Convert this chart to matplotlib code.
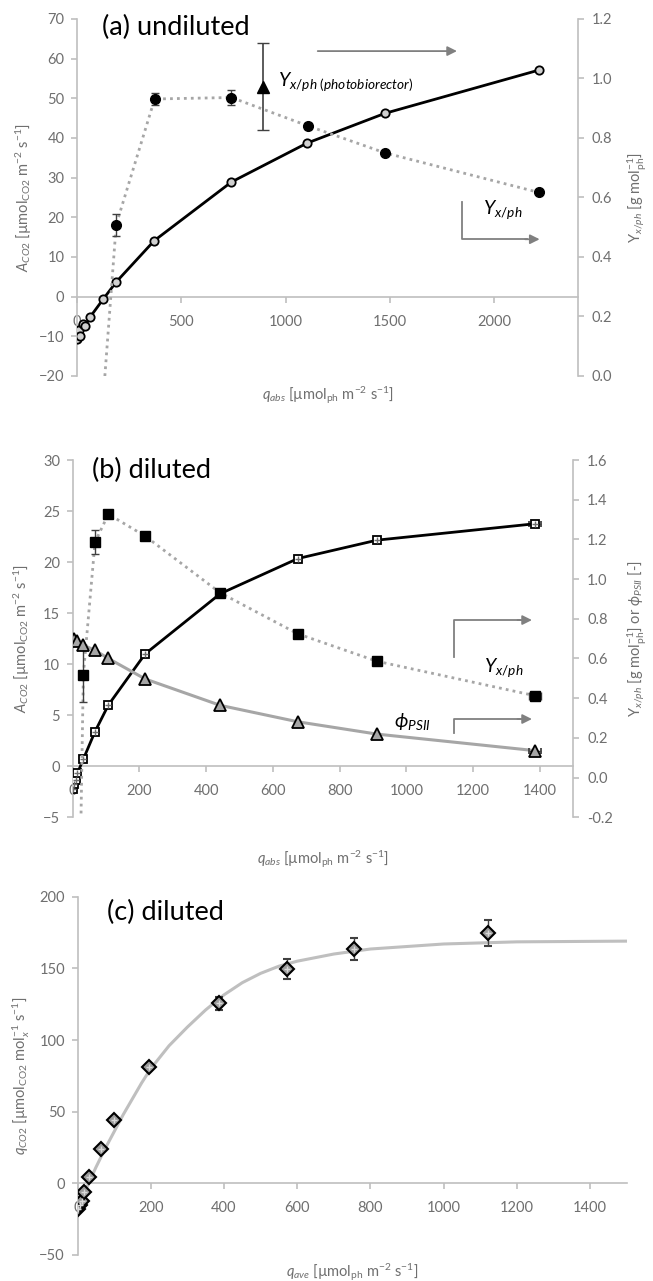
import matplotlib
matplotlib.use("Agg")
import matplotlib.pyplot as plt

plt.rcParams["font.family"] = ["Lato", "DejaVu Sans"]
plt.rcParams["mathtext.fontset"] = "custom"
plt.rcParams["mathtext.rm"] = "Lato"
plt.rcParams["mathtext.it"] = "Lato:italic"
plt.rcParams["mathtext.bf"] = "Lato:bold"
plt.rcParams["mathtext.fallback"] = "stixsans"

# (a) undiluted
qa_A = [0, 11, 14, 27, 38, 62, 126, 188, 370, 740, 1102, 1475, 2212]
A_a = [-10.6, -8.5, -10.0, -7.0, -7.5, -5.2, -0.6, 3.7, 14.1, 28.9, 38.7, 46.2, 57.1]
qa_Y = [126, 188, 372, 740, 1105, 1475, 2212]
Y_a = [-0.07, 0.509, 0.931, 0.936, 0.841, 0.750, 0.617]
Y_a_err = [0, 0.037, 0.021, 0.025, 0.01, 0, 0]
pbr_q = [889]
pbr_Y = [0.972]
pbr_err = [0.146]

# (b) diluted
qb_A = [0, 4, 10, 14, 32, 67, 107, 217, 442, 675, 912, 1384]
A_b = [-2.2, -1.7, -1.3, -0.7, 0.7, 3.4, 6.0, 11.0, 16.9, 20.35, 22.15, 23.75]
A_b_xerr = [0, 0, 0, 0, 0, 0, 0, 0, 0, 0, 0, 18]
qb_Y = [14, 32, 67, 107, 217, 442, 675, 912, 1384]
Y_b = [-1.3, 0.519, 1.187, 1.327, 1.217, 0.931, 0.724, 0.586, 0.413]
Y_b_err = [0, 0.14, 0.06, 0.015, 0, 0, 0, 0, 0]
Y_b_xerr = [0, 0, 0, 0, 0, 0, 0, 0, 18]
qb_phi = [4, 12, 32, 67, 107, 217, 442, 675, 912, 1384]
phi_b = [0.70, 0.69, 0.667, 0.641, 0.60, 0.497, 0.364, 0.281, 0.219, 0.136]
phi_b_xerr = [0, 0, 0, 0, 0, 0, 0, 0, 0, 18]

# (c) diluted, specific rate
qc = [0, 6, 11, 19, 32, 65, 100, 196, 386, 571, 756, 1122]
qc_CO2 = [-17.9, -15.0, -12.6, -6.0, 4.3, 24.3, 44.0, 81.4, 125.6, 149.3, 163.5, 174.9]
qc_err = [0, 0, 0, 1.5, 1.5, 1.5, 1.5, 2, 4.5, 7, 8, 9]
fit_q = [0, 25, 50, 75, 100, 125, 150, 175, 200, 250, 300, 350, 400, 450, 500,
         550, 600, 700, 800, 1000, 1200, 1500]
fit_CO2 = [-17, -3, 11, 24, 36, 48, 59, 70, 80, 96, 109, 121, 131.5, 140, 146.5,
           151.5, 155, 160, 163.5, 167, 168.5, 169]

GRID = "#bfbfbf"
TXT = "#6f6f6f"
DOT = "#a6a6a6"
ARROW = "#808080"


def style_main(ax):
    ax.spines["top"].set_visible(False)
    ax.spines["right"].set_visible(False)
    ax.spines["bottom"].set_position(("data", 0))
    for s in ("left", "bottom"):
        ax.spines[s].set_color(GRID)
        ax.spines[s].set_linewidth(1.2)
    ax.tick_params(axis="both", colors=GRID, labelcolor=TXT, labelsize=10.5,
                   length=4, width=1.2)
    ax.tick_params(axis="x", pad=9)
    ax.tick_params(axis="y", pad=5)


def style_twin(ax2):
    for s in ("top", "left", "bottom"):
        ax2.spines[s].set_visible(False)
    ax2.spines["right"].set_color(GRID)
    ax2.spines["right"].set_linewidth(1.2)
    ax2.tick_params(axis="y", colors=GRID, labelcolor=TXT, labelsize=10.5,
                    length=4, width=1.2, pad=6)


def bracket(ax, x0, y0, y1, x1):
    ax.plot([x0, x0, x1 - 0.03], [y0, y1, y1], color=ARROW, lw=1.3,
            transform=ax.transAxes, clip_on=False)
    ax.annotate("", xy=(x1, y1), xytext=(x1 - 0.04, y1), xycoords="axes fraction",
                arrowprops=dict(arrowstyle="-|>", color=ARROW, lw=1.3, mutation_scale=14))


fig = plt.figure(figsize=(6.53, 12.81), dpi=100)

# ---------------- (a) ----------------
ax = fig.add_axes([0.1179, 0.7065, 0.7672, 0.2787])
ax.set_xlim(0, 2400)
ax.set_ylim(-20, 70)
ax.set_xticks([0, 500, 1000, 1500, 2000])
ax.set_yticks(range(-20, 71, 10))
style_main(ax)
ax.plot(qa_A, A_a, color="black", lw=2, marker="o", ms=6, mfc="#d0d0d0",
        mec="black", mew=1.3, zorder=4)
ax.set_xlabel(r"$q_{abs}$ [µmol$_{\mathrm{ph}}$ m$^{-2}$ s$^{-1}$]", color=TXT, fontsize=10.5)
ax.xaxis.set_label_coords(0.5, -0.025)
ax.set_ylabel(r"$A_{CO2}$ [µmol$_{\mathrm{CO2}}$ m$^{-2}$ s$^{-1}$]", color=TXT, fontsize=10.5)
ax.yaxis.set_label_coords(-0.086, 0.5)
ax.text(0.049, 0.977, "(a) undiluted", transform=ax.transAxes, fontsize=19.5,
        ha="left", va="center")

ax2 = ax.twinx()
ax2.set_ylim(0, 1.2)
ticks_a = [0.0, 0.2, 0.4, 0.6, 0.8, 1.0, 1.2]
ax2.set_yticks(ticks_a)
ax2.set_yticklabels([f"{v:.1f}" for v in ticks_a])
style_twin(ax2)
ax2.plot(qa_Y, Y_a, color=DOT, lw=2, ls=(0, (1, 1.5)), zorder=3)
ax2.errorbar(qa_Y, Y_a, yerr=Y_a_err, fmt="o", color="black", ms=7,
             ecolor="#404040", elinewidth=1, capsize=3, zorder=5)
ax2.errorbar(pbr_q, pbr_Y, yerr=pbr_err, fmt="^", color="black", ms=8,
             ecolor="#404040", elinewidth=1.2, capsize=4, zorder=5)
ax2.set_ylabel(r"Y$_{x/ph}$ [g mol$_{\mathrm{ph}}^{-1}$]", color=TXT, fontsize=10.5)
ax2.yaxis.set_label_coords(1.096, 0.5)
ax2.text(0.401, 0.824, r"$Y_{x/ph\ (photobiorector)}$", transform=ax2.transAxes,
         fontsize=14, ha="left", va="center")
ax2.annotate("", xy=(0.764, 0.910), xytext=(0.475, 0.910), xycoords="axes fraction",
             arrowprops=dict(arrowstyle="-|>", color=ARROW, lw=1.3, mutation_scale=14))
ax2.text(0.850, 0.465, r"$Y_{x/ph}$", transform=ax2.transAxes, fontsize=14,
         ha="center", va="center")
bracket(ax2, 0.769, 0.488, 0.383, 0.929)

# ---------------- (b) ----------------
bx = fig.add_axes([0.1113, 0.3620, 0.7666, 0.2789])
bx.set_xlim(0, 1500)
bx.set_ylim(-5, 30)
bx.set_xticks(range(0, 1401, 200))
bx.set_yticks(range(-5, 31, 5))
style_main(bx)
bx.errorbar(qb_A, A_b, xerr=A_b_xerr, color="black", lw=2, marker="s", ms=6,
            mfc="white", mec="black", mew=1.3, ecolor="#404040", elinewidth=1,
            capsize=2, zorder=4)
bx.plot(qb_A, A_b, ls="none", marker="+", ms=5, mec="#707070", mew=1, zorder=5)
bx.set_xlabel(r"$q_{abs}$ [µmol$_{\mathrm{ph}}$ m$^{-2}$ s$^{-1}$]", color=TXT, fontsize=10.5)
bx.xaxis.set_label_coords(0.5, -0.086)
bx.set_ylabel(r"$A_{CO2}$ [µmol$_{\mathrm{CO2}}$ m$^{-2}$ s$^{-1}$]", color=TXT, fontsize=10.5)
bx.yaxis.set_label_coords(-0.081, 0.5)
bx.text(0.038, 0.972, "(b) diluted", transform=bx.transAxes, fontsize=19.5,
        ha="left", va="center")

bx2 = bx.twinx()
bx2.set_ylim(-0.2, 1.6)
ticks_b = [-0.2, 0.0, 0.2, 0.4, 0.6, 0.8, 1.0, 1.2, 1.4, 1.6]
bx2.set_yticks(ticks_b)
bx2.set_yticklabels([f"{v:.1f}" for v in ticks_b])
style_twin(bx2)
bx2.plot(qb_Y, Y_b, color=DOT, lw=2, ls=(0, (1, 1.5)), zorder=3)
bx2.errorbar(qb_Y, Y_b, yerr=Y_b_err, xerr=Y_b_xerr, fmt="s", color="black", ms=7.5,
             ecolor="#404040", elinewidth=1, capsize=3, zorder=5)
bx2.plot(qb_phi, phi_b, color="#a6a6a6", lw=2.2, zorder=3)
bx2.errorbar(qb_phi, phi_b, xerr=phi_b_xerr, fmt="^", ms=8, mfc="#a6a6a6",
             mec="black", mew=1.3, ecolor="#404040", elinewidth=1, capsize=2, zorder=5)
bx2.set_ylabel(r"Y$_{x/ph}$ [g mol$_{\mathrm{ph}}^{-1}$] or $\phi_{PSII}$ [-]",
               color=TXT, fontsize=10.5)
bx2.yaxis.set_label_coords(1.105, 0.5)
bx2.text(0.861, 0.418, r"$Y_{x/ph}$", transform=bx2.transAxes, fontsize=14,
         ha="center", va="center")
bracket(bx2, 0.762, 0.449, 0.552, 0.923)
bx2.text(0.679, 0.268, r"$\phi_{PSII}$", transform=bx2.transAxes, fontsize=14,
         ha="center", va="center")
bracket(bx2, 0.762, 0.235, 0.275, 0.923)

# ---------------- (c) ----------------
cx = fig.add_axes([0.1187, 0.0203, 0.8410, 0.2797])
cx.set_xlim(0, 1500)
cx.set_ylim(-50, 200)
cx.set_xticks(range(0, 1401, 200))
cx.set_yticks(range(-50, 201, 50))
style_main(cx)
cx.plot(fit_q, fit_CO2, color="#bfbfbf", lw=2.2, zorder=3)
cx.errorbar(qc, qc_CO2, yerr=qc_err, fmt="D", ms=7, mfc="#9a9a9a", mec="black",
            mew=1.5, ecolor="#404040", elinewidth=1, capsize=3, zorder=4)
cx.plot(qc, qc_CO2, ls="none", marker="+", ms=5, mec="#d9d9d9", mew=1, zorder=5)
cx.set_xlabel(r"$q_{ave}$ [µmol$_{\mathrm{ph}}$ m$^{-2}$ s$^{-1}$]", color=TXT, fontsize=10.5)
cx.xaxis.set_label_coords(0.5, -0.017)
cx.set_ylabel(r"$q_{CO2}$ [µmol$_{\mathrm{CO2}}$ mol$_x^{-1}$ s$^{-1}$]", color=TXT, fontsize=10.5)
cx.yaxis.set_label_coords(-0.083, 0.5)
cx.text(0.054, 0.955, "(c) diluted", transform=cx.transAxes, fontsize=19.5,
        ha="left", va="center")

fig.savefig("out.png", dpi=100)
